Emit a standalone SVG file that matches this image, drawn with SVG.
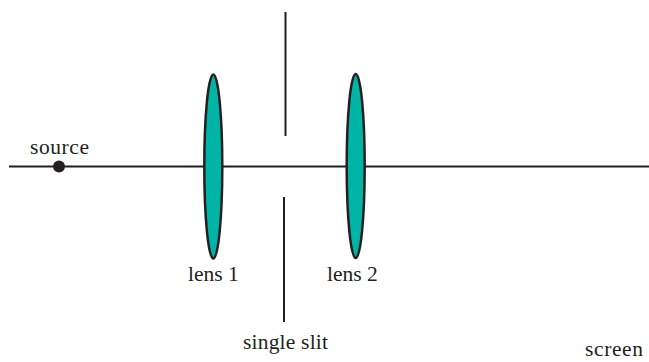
<svg xmlns="http://www.w3.org/2000/svg" width="649" height="362" viewBox="0 0 649 362">
<style>
.l{fill:none;stroke:#231f20;stroke-width:2}
.lens{fill:#00b5a6;stroke:#231f20;stroke-width:2.500}
text{font-family:"Liberation Serif","Noto Serif",serif;font-size:21.500px;fill:#231f20}
</style>
<rect width="649" height="362" fill="#fff"/>
<g id="axis"><path class="l" d="M9 166.500H649"/></g>
<g id="lens1"><ellipse class="lens" cx="213.300" cy="166.500" rx="9" ry="92"/><text x="188" y="281">lens 1</text></g>
<g id="lens2"><ellipse class="lens" cx="355.700" cy="166" rx="9" ry="92"/><text x="327" y="281">lens 2</text></g>
<g id="slit"><path class="l" d="M285.500 12V136M284 197V322"/><text x="243" y="349" textLength="85">single slit</text></g>
<g id="source"><circle cx="59" cy="166.500" r="6" fill="#231f20"/><text x="30" y="154" textLength="59">source</text></g>
<g id="screen"><text x="585" y="356" textLength="58">screen</text></g>
</svg>
